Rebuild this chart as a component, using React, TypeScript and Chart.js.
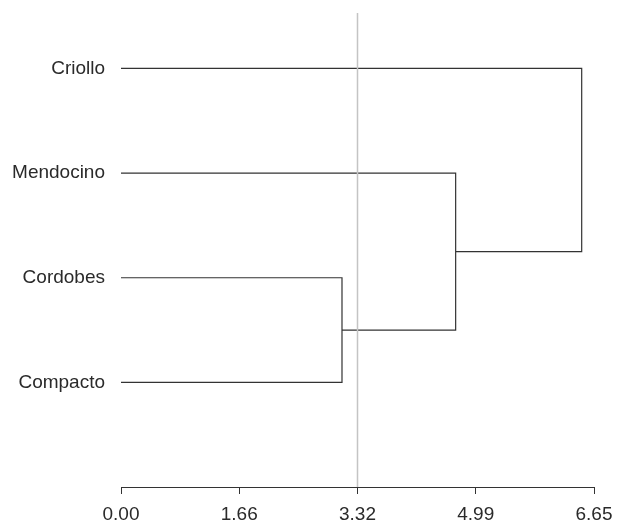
import React, { useEffect, useRef } from "react";
import { Chart, registerables } from "chart.js";

Chart.register(...registerables);

const leafNames = ["Criollo", "Mendocino", "Cordobes", "Compacto"];
const leafPositions = [4, 3, 2, 1];
const xTickValues = [0, 1.6625, 3.325, 4.9875, 6.65];
const xTickLabels = ["0.00", "1.66", "3.32", "4.99", "6.65"];
const cutHeight = 3.325;
// merges: [childA, childB, height]; children are leaf names or "n0", "n1"...
const mergeA = ["Cordobes", "Mendocino", "Criollo"];
const mergeB = ["Compacto", "n0", "n1"];
const mergeHeights = [3.107, 4.705, 6.477];

const X_MAX = 6.65;
const Y_MAX = 4.53;

function buildSegments() {
  const pos: Record<string, { x: number; y: number }> = {};
  leafNames.forEach((n, i) => (pos[n] = { x: 0, y: leafPositions[i] }));
  const pts: any[] = [];
  mergeA.forEach((a, i) => {
    const b = mergeB[i];
    const h = mergeHeights[i];
    const pa = pos[a];
    const pb = pos[b];
    pts.push({ x: pa.x, y: pa.y }, { x: h, y: pa.y }, { x: h, y: pb.y }, { x: pb.x, y: pb.y }, { x: h, y: null });
    pos["n" + i] = { x: h, y: (pa.y + pb.y) / 2 };
  });
  return pts;
}

export default function App() {
  const ref = useRef<HTMLCanvasElement>(null);
  useEffect(() => {
    const chart = new Chart(ref.current!, {
      type: "line",
      data: {
        datasets: [
          {
            data: [
              { x: cutHeight, y: 0 },
              { x: cutHeight, y: Y_MAX },
            ],
            borderColor: "#c4c4c4",
            borderWidth: 1.5,
            pointRadius: 0,
            clip: false as any,
          },
          {
            data: buildSegments(),
            borderColor: "#333",
            borderWidth: 1.2,
            pointRadius: 0,
            spanGaps: false,
            tension: 0,
            clip: false as any,
          },
        ],
      },
      options: {
        animation: false,
        responsive: false,
        maintainAspectRatio: false,
        layout: { padding: { top: 13, right: 24, left: 0, bottom: 0 } },
        plugins: { legend: { display: false }, tooltip: { enabled: false } },
        scales: {
          x: {
            type: "linear",
            min: 0,
            max: X_MAX,
            afterBuildTicks: (s: any) => {
              s.ticks = xTickValues.map((v) => ({ value: v }));
            },
            afterFit: (s: any) => {
              s.height = 34;
              s.paddingLeft = 0;
              s.paddingRight = 0;
            },
            ticks: {
              callback: (v: any) => {
                const i = xTickValues.indexOf(Number(v));
                return i >= 0 ? xTickLabels[i] : "";
              },
              color: "#2a2a2a",
              font: { family: "Liberation Sans, Arial, sans-serif", size: 19 },
              padding: 9,
              maxRotation: 0,
              autoSkip: false,
            },
            grid: { drawOnChartArea: false, drawTicks: true, tickLength: 7, color: "#333" },
            border: { display: true, color: "#333", width: 1 },
          },
          y: {
            type: "linear",
            min: 0,
            max: Y_MAX,
            afterBuildTicks: (s: any) => {
              s.ticks = leafPositions.map((v) => ({ value: v }));
            },
            afterFit: (s: any) => {
              s.width = 121;
              s.paddingTop = 0;
              s.paddingBottom = 0;
            },
            ticks: {
              callback: (v: any) => {
                const i = leafPositions.indexOf(Number(v));
                return i >= 0 ? leafNames[i] : "";
              },
              color: "#2a2a2a",
              font: { family: "Liberation Sans, Arial, sans-serif", size: 19 },
              padding: 16,
              autoSkip: false,
            },
            grid: { display: false, drawTicks: false },
            border: { display: false },
          },
        },
      },
    });
    return () => chart.destroy();
  }, []);
  return (
    <div style={{ position: "fixed", left: 0, top: 0, width: 618, height: 521, background: "#fff" }}>
      <canvas ref={ref} width={618} height={521} style={{ width: 618, height: 521 }} />
    </div>
  );
}
